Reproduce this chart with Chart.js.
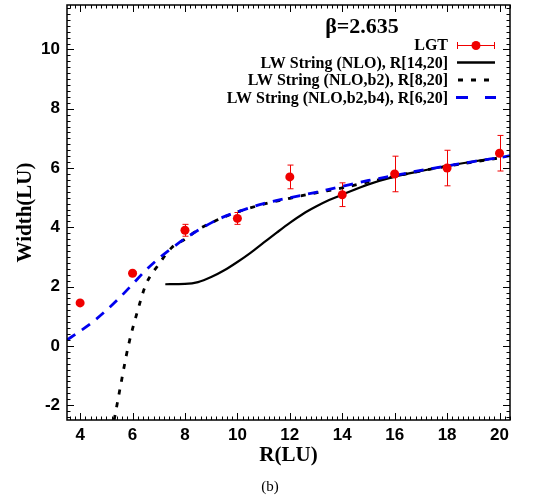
<!DOCTYPE html>
<html>
<head>
<meta charset="utf-8">
<script src="https://cdn.jsdelivr.net/npm/chart.js@4/dist/chart.umd.min.js"></script>
<style>
  html, body { margin: 0; padding: 0; background: #fff; }
  #wrap { width: 540px; height: 501px; position: relative; }
</style>
</head>
<body>
<div id="wrap"><canvas id="c" width="540" height="501"></canvas></div>
<script>
// ---- data ----
const xTicks = [4, 6, 8, 10, 12, 14, 16, 18, 20];
const yTicks = [-2, 0, 2, 4, 6, 8, 10];

// LGT lattice data
const lgtR   = [4, 6, 8, 10, 12, 14, 16, 18, 20];
const lgtW   = [1.45, 2.45, 3.9, 4.3, 5.7, 5.1, 5.8, 6.0, 6.5];
const lgtErr = [0.05, 0.05, 0.2, 0.2, 0.4, 0.4, 0.6, 0.6, 0.6];

// LW String (NLO), R[14,20]  (solid black)
const nloR = [7.25, 8, 8.5, 9, 9.5, 10, 10.5, 11, 11.5, 12, 12.5, 13, 13.5, 14, 15, 16, 17, 18, 19, 19.6];
const nloW = [2.08, 2.09, 2.15, 2.32, 2.55, 2.83, 3.14, 3.48, 3.82, 4.15, 4.45, 4.7, 4.92, 5.1, 5.45, 5.71, 5.9, 6.07, 6.22, 6.3];

// LW String (NLO,b2), R[8,20]  (dotted black)
const b2R = [5.3, 5.5, 5.84, 6.2, 6.5, 7, 7.5, 8, 8.5, 9, 9.5, 10, 11, 12, 13, 14, 15, 16, 17, 18, 19, 19.9];
const b2W = [-2.5, -1.55, 0, 1.2, 2.05, 2.75, 3.32, 3.6, 3.92, 4.15, 4.35, 4.52, 4.78, 4.98, 5.16, 5.33, 5.53, 5.72, 5.9, 6.06, 6.2, 6.33];

// LW String (NLO,b2,b4), R[6,20]  (dashed blue)
const b4R = [3.5, 4, 4.5, 5, 5.5, 6, 6.5, 7, 7.5, 8, 8.5, 9, 9.5, 10, 11, 12, 13, 14, 15, 16, 17, 18, 19, 20, 20.4];
const b4W = [0.2, 0.5, 0.82, 1.2, 1.62, 2.08, 2.55, 2.95, 3.3, 3.62, 3.9, 4.15, 4.36, 4.52, 4.8, 5.0, 5.18, 5.38, 5.58, 5.75, 5.92, 6.07, 6.22, 6.35, 6.42];

const seriesLabels = ['LGT', 'LW String (NLO), R[14,20]', 'LW String (NLO,b2), R[8,20]', 'LW String (NLO,b2,b4), R[6,20]'];
const plotTitle = '\u03B2=2.635';
const xTitle = 'R(LU)';
const yTitle = 'Width(LU)';
const panelLabel = '(b)';

const pts = (xs, ys) => xs.map((x, i) => ({ x: x, y: ys[i] }));

const RED = '#f00000';
const BLUE = '#0000ee';

// ---- plugin: frame, inward ticks on all sides, error bars, text, legend ----
const decor = {
  id: 'decor',
  beforeDatasetsDraw(chart) {
    const ctx = chart.ctx, xs = chart.scales.x, ys = chart.scales.y;
    ctx.save();
    ctx.strokeStyle = RED;
    ctx.lineWidth = 1;
    lgtR.forEach((r, i) => {
      const px = Math.round(xs.getPixelForValue(r)) + 0.5;
      const y1 = ys.getPixelForValue(lgtW[i] + lgtErr[i]);
      const y2 = ys.getPixelForValue(lgtW[i] - lgtErr[i]);
      ctx.beginPath();
      ctx.moveTo(px, y1); ctx.lineTo(px, y2);
      ctx.moveTo(px - 3, y1); ctx.lineTo(px + 3, y1);
      ctx.moveTo(px - 3, y2); ctx.lineTo(px + 3, y2);
      ctx.stroke();
    });
    ctx.restore();
  },
  afterDraw(chart) {
    const ctx = chart.ctx, a = chart.chartArea, xs = chart.scales.x, ys = chart.scales.y;
    ctx.save();
    ctx.strokeStyle = '#000';
    ctx.lineWidth = 1.5;
    ctx.strokeRect(a.left, a.top, a.right - a.left, a.bottom - a.top);
    ctx.lineWidth = 1;
    ctx.beginPath();
    const isMajor = (v, arr) => arr.some(t => Math.abs(t - v) < 1e-6);
    for (let k = Math.ceil(3.5 / 0.2); k * 0.2 <= 20.4 + 1e-9; k++) {
      const v = +(k * 0.2).toFixed(3);
      const px = Math.round(xs.getPixelForValue(v)) + 0.5;
      const len = isMajor(v, xTicks) ? 7 : 3.5;
      ctx.moveTo(px, a.bottom); ctx.lineTo(px, a.bottom - len);
      ctx.moveTo(px, a.top); ctx.lineTo(px, a.top + len);
    }
    for (let k = Math.ceil(-2.5 / 0.2); k * 0.2 <= 11.5 + 1e-9; k++) {
      const v = +(k * 0.2).toFixed(3);
      const py = Math.round(ys.getPixelForValue(v)) + 0.5;
      const len = isMajor(v, yTicks) ? 7 : 3.5;
      ctx.moveTo(a.left, py); ctx.lineTo(a.left + len, py);
      ctx.moveTo(a.right, py); ctx.lineTo(a.right - len, py);
    }
    ctx.stroke();

    ctx.fillStyle = '#000';
    ctx.textAlign = 'center';
    ctx.textBaseline = 'middle';
    ctx.font = 'bold 22px "Liberation Serif", "DejaVu Serif", serif';
    ctx.fillText(plotTitle, 362, 27);

    const rowsY = [45, 62.5, 80, 97.5];
    const textRight = 448, s0 = 457, s1 = 495;
    ctx.font = 'bold 16px "Liberation Serif", "DejaVu Serif", serif';
    ctx.textAlign = 'right';
    seriesLabels.forEach((lab, i) => ctx.fillText(lab, textRight, rowsY[i] + 1));
    ctx.strokeStyle = RED; ctx.lineWidth = 1;
    ctx.beginPath();
    ctx.moveTo(s0, rowsY[0] + 0.5); ctx.lineTo(s1, rowsY[0] + 0.5);
    ctx.moveTo(s0 + 0.5, rowsY[0] - 3); ctx.lineTo(s0 + 0.5, rowsY[0] + 4);
    ctx.moveTo(s1 - 0.5, rowsY[0] - 3); ctx.lineTo(s1 - 0.5, rowsY[0] + 4);
    ctx.stroke();
    ctx.fillStyle = RED;
    ctx.beginPath(); ctx.arc((s0 + s1) / 2, rowsY[0] + 0.5, 4.5, 0, Math.PI * 2); ctx.fill();
    ctx.strokeStyle = '#000'; ctx.lineWidth = 2.5;
    ctx.beginPath(); ctx.moveTo(s0, rowsY[1]); ctx.lineTo(s1, rowsY[1]); ctx.stroke();
    ctx.lineWidth = 2.8;
    ctx.setLineDash([5, 8]);
    ctx.beginPath(); ctx.moveTo(s0 + 1, rowsY[2]); ctx.lineTo(s1, rowsY[2]); ctx.stroke();
    ctx.strokeStyle = BLUE; ctx.lineWidth = 2.8;
    ctx.setLineDash([12, 17]);
    ctx.beginPath(); ctx.moveTo(s0 - 1, rowsY[3]); ctx.lineTo(s1 + 1, rowsY[3]); ctx.stroke();
    ctx.setLineDash([]);

    ctx.fillStyle = '#000';
    ctx.textAlign = 'center';
    ctx.font = '15px "Liberation Serif", "DejaVu Serif", serif';
    ctx.fillText(panelLabel, 270, 487);
    ctx.restore();
  }
};

const tickFont = { family: '"Liberation Sans", Arial, sans-serif', size: 17, weight: 'bold' };
const titleFont = { family: '"Liberation Serif", "Times New Roman", serif', size: 21, weight: 'bold' };

new Chart(document.getElementById('c'), {
  type: 'scatter',
  data: {
    datasets: [
      {
        label: seriesLabels[0],
        data: pts(lgtR, lgtW),
        showLine: false,
        pointRadius: 4.5,
        pointHoverRadius: 4.5,
        pointBackgroundColor: RED,
        pointBorderColor: RED,
        pointBorderWidth: 0,
        order: 0
      },
      {
        label: seriesLabels[3],
        data: pts(b4R, b4W),
        showLine: true,
        pointRadius: 0,
        borderColor: BLUE,
        borderWidth: 2.8,
        borderDash: [10, 8],
        cubicInterpolationMode: 'monotone',
        order: 1
      },
      {
        label: seriesLabels[2],
        data: pts(b2R, b2W),
        showLine: true,
        pointRadius: 0,
        borderColor: '#000',
        borderWidth: 2.8,
        borderDash: [5, 8],
        cubicInterpolationMode: 'monotone',
        order: 2
      },
      {
        label: seriesLabels[1],
        data: pts(nloR, nloW),
        showLine: true,
        pointRadius: 0,
        borderColor: '#000',
        borderWidth: 2.2,
        cubicInterpolationMode: 'monotone',
        order: 3
      }
    ]
  },
  options: {
    responsive: false,
    animation: false,
    devicePixelRatio: 1,
    layout: { padding: { left: 0, right: 30, top: 5, bottom: 33 } },
    plugins: { legend: { display: false }, tooltip: { enabled: false } },
    scales: {
      x: {
        type: 'linear',
        min: 3.5, max: 20.4,
        grid: { display: false, drawTicks: false },
        border: { display: false },
        afterBuildTicks: s => { s.ticks = xTicks.map(v => ({ value: v })); },
        afterFit: s => { s.height = 48; s.paddingLeft = 0; s.paddingRight = 0; },
        ticks: { font: tickFont, color: '#000', padding: 5, maxRotation: 0, autoSkip: false },
        title: { display: true, text: xTitle, font: titleFont, color: '#000', padding: { top: 0, bottom: 0 } }
      },
      y: {
        type: 'linear',
        min: -2.5, max: 11.5,
        grid: { display: false, drawTicks: false },
        border: { display: false },
        afterBuildTicks: s => { s.ticks = yTicks.map(v => ({ value: v })); },
        afterFit: s => { s.width = 67; s.paddingTop = 0; s.paddingBottom = 0; },
        ticks: { font: tickFont, color: '#000', padding: 7, autoSkip: false },
        title: { display: true, text: yTitle, font: titleFont, color: '#000', padding: { top: 13, bottom: 0 } }
      }
    }
  },
  plugins: [decor]
});
</script>
</body>
</html>
